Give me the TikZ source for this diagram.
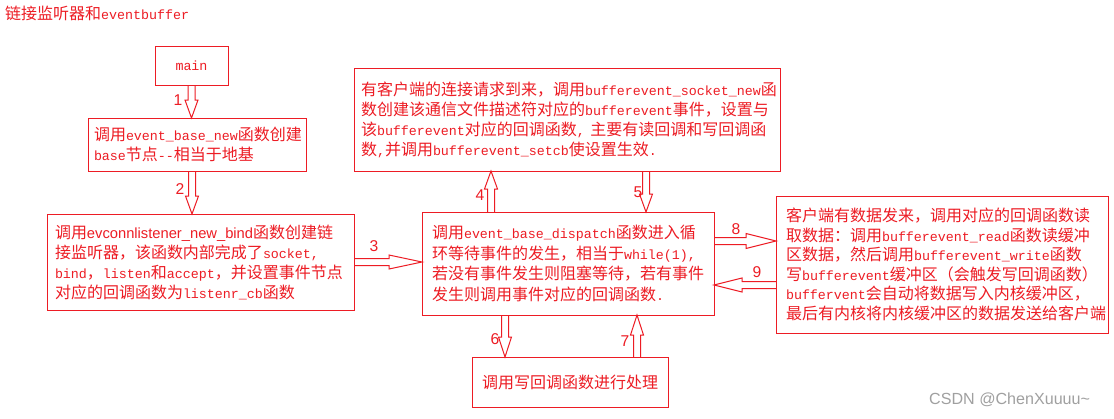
\documentclass[tikz,border=0pt]{standalone}
\usepackage{fontspec}
\setmainfont{Noto Sans CJK SC}
\setsansfont{Liberation Sans}[Scale=0.92]
\setmonofont{Liberation Mono}[Scale=0.833]
\usetikzlibrary{calc}
\definecolor{pred}{HTML}{ED1C24}
\definecolor{wmgray}{HTML}{A0A0A0}

\tikzset{
  box/.style={draw=pred, line width=1pt, text=pred, align=left, anchor=north west,
    inner ysep=0pt, outer sep=0pt, font=\fontsize{16}{20}\selectfont},
  num/.style={text=pred, inner sep=0pt, font=\sffamily\fontsize{17}{17}\selectfont},
  shaft/.store in=\shaftw, shaft=3.5pt,
  head len/.store in=\headlen, head len=18pt,
  head wid/.store in=\headwid, head wid=6.5pt,
  hollow/.style={draw=pred, line width=1pt, line join=miter, to path={
    ($(\tikztostart)!\shaftw!90:(\tikztotarget)$)
    -- ($($(\tikztotarget)!\headlen!(\tikztostart)$)!\shaftw!-90:(\tikztostart)$)
    -- ($($(\tikztotarget)!\headlen!(\tikztostart)$)!\headwid!-90:(\tikztostart)$)
    -- (\tikztotarget)
    -- ($($(\tikztotarget)!\headlen!(\tikztostart)$)!\headwid!90:(\tikztostart)$)
    -- ($($(\tikztotarget)!\headlen!(\tikztostart)$)!\shaftw!90:(\tikztostart)$)
    -- ($(\tikztostart)!\shaftw!-90:(\tikztotarget)$)}}
}

\begin{document}
\begin{tikzpicture}[x=1pt,y=-1pt]
\fill[white] (0,0) rectangle (1114,418);
\node[text=pred, anchor=west, inner sep=0pt, font=\fontsize{16}{20}\selectfont] (title) at (5,13) {链接监听器和\texttt{eventbuffer}};

% boxes
\node[box, align=center, inner xsep=0pt, text width=73pt, minimum height=39pt] (main) at (155,46) {\texttt{main}};
\node[box, inner xsep=6pt, text width=206pt, minimum height=53pt] (base) at (88,118)
  {调用\texttt{event\_base\_new}函数创建\\\texttt{base}节点\texttt{--}相当于地基};
\node[box, inner xsep=8pt, text width=291pt, minimum height=96pt] (listen) at (47,214)
  {调用\textsf{evconnlistener\_new\_bind}函数创建链\\
   接监听器，该函数内部完成了\texttt{socket,}\\
   \texttt{bind}，\texttt{listen}和\texttt{accept}，并设置事件节点\\
   对应的回调函数为\texttt{listenr\_cb}函数};
\node[box, inner xsep=10pt, text width=272pt, minimum height=103pt, font=\fontsize{16}{20.5}\selectfont] (dispatch) at (422,212)
  {调用\texttt{event\_base\_dispatch}函数进入循\\
   环等待事件的发生，相当于\texttt{while(1),}\\
   若没有事件发生则阻塞等待，若有事件\\
   发生则调用事件对应的回调函数\texttt{.}};
\node[box, inner xsep=7pt, text width=412pt, minimum height=103pt] (accept) at (354,68)
  {有客户端的连接请求到来，调用\texttt{bufferevent\_socket\_new}函\\
   数创建该通信文件描述符对应的\texttt{bufferevent}事件，设置与\\
   该\texttt{bufferevent}对应的回调函数\texttt{,~}主要有读回调和写回调函\\
   数\texttt{,}并调用\texttt{bufferevent\_setcb}使设置生效\texttt{.}};
\node[box, inner xsep=10pt, text width=312pt, minimum height=137pt, font=\fontsize{16}{19.5}\selectfont] (readwrite) at (776,196)
  {客户端有数据发来，调用对应的回调函数读\\
   取数据：调用\texttt{bufferevent\_read}函数读缓冲\\
   区数据，然后调用\texttt{bufferevent\_write}函数\\
   写\texttt{bufferevent}缓冲区（会触发写回调函数）\\
   \texttt{buffervent}会自动将数据写入内核缓冲区，\\
   最后有内核将内核缓冲区的数据发送给客户端};
\node[box, align=center, inner xsep=0pt, text width=196pt, minimum height=50pt] (write) at (472,357)
  {调用写回调函数进行处理};

% arrow ends
\coordinate (t1) at (main.south |- base.north);
\coordinate (s2) at ([xshift=-5pt]base.south);
\coordinate (t2) at (s2 |- listen.north);
\coordinate (t3) at (listen.east -| dispatch.west);
\coordinate (s4) at ([xshift=-77pt]dispatch.north);
\coordinate (t4) at (s4 |- accept.south);
\coordinate (s5) at ([xshift=79pt]accept.south);
\coordinate (t5) at (s5 |- dispatch.north);
\coordinate (s6) at ([xshift=-63pt]dispatch.south);
\coordinate (t6) at (s6 |- write.north);
\coordinate (t7) at ([xshift=69pt]dispatch.south);
\coordinate (s7) at (t7 |- write.north);
\coordinate (s8) at ([yshift=22.5pt]dispatch.east);
\coordinate (t8) at (s8 -| readwrite.west);
\coordinate (t9) at ([yshift=-21.5pt]dispatch.east);
\coordinate (s9) at (t9 -| readwrite.west);

% hollow arrows
\draw[hollow] (main.south) to (t1);
\draw[hollow] (s2) to (t2);
\draw[hollow, head len=33pt, head wid=7pt] (listen.east) to (t3);
\draw[hollow] (s4) to (t4);
\draw[hollow] (s5) to (t5);
\draw[hollow, head len=20pt] (s6) to (t6);
\draw[hollow, head len=20pt] (s7) to (t7);
\draw[hollow, head len=30pt, head wid=7.5pt] (s8) to (t8);
\draw[hollow, head len=28pt, head wid=7pt] (s9) to (t9);

% step numbers
\node[num] (n1) at (178,100) {1};
\node[num] (n2) at (180,189) {2};
\node[num] (n3) at (374,246) {3};
\node[num] (n4) at (480,195) {4};
\node[num] (n5) at (638,192) {5};
\node[num] (n6) at (495,339) {6};
\node[num] (n7) at (625,341) {7};
\node[num] (n8) at (736,229) {8};
\node[num] (n9) at (757,272) {9};

\node[text=wmgray, anchor=west, inner sep=0pt, font=\sffamily\fontsize{17.5}{18}\selectfont] (mark) at (929,400) {CSDN @ChenXuuuu\textasciitilde};
\end{tikzpicture}
\end{document}
